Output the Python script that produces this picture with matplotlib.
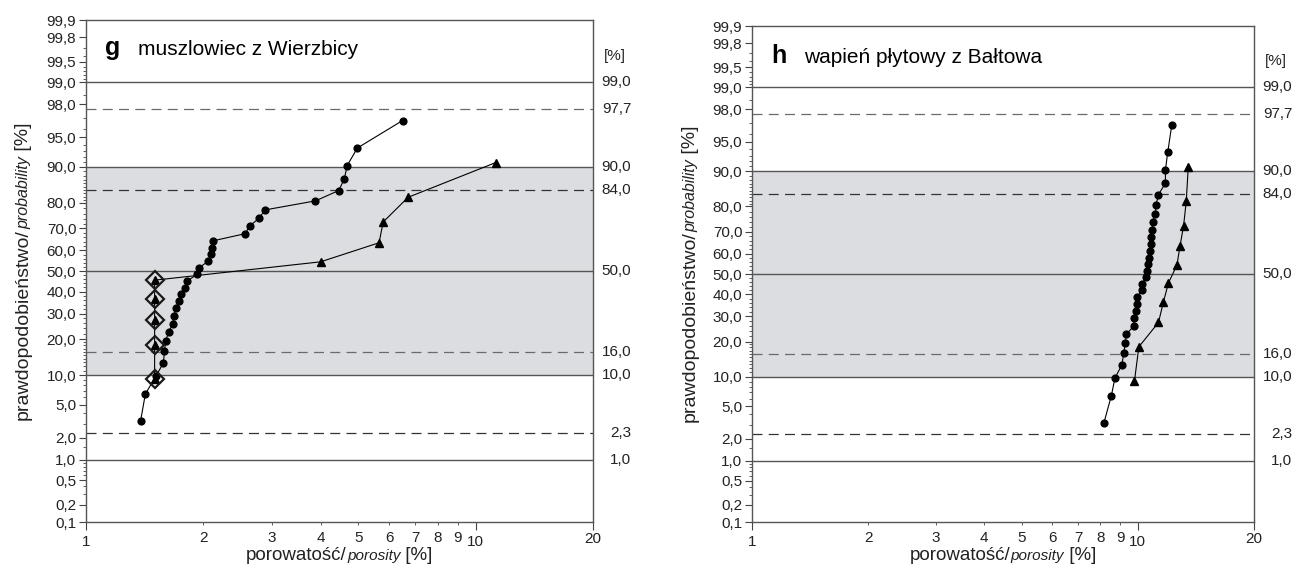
import numpy as np
import matplotlib
matplotlib.use('Agg')
import matplotlib.pyplot as plt
from matplotlib.ticker import FixedLocator, FixedFormatter
from matplotlib.transforms import IdentityTransform
from statistics import NormalDist

plt.rcParams['font.family'] = ['Liberation Sans', 'DejaVu Sans']

# prawdopodobieństwo [%] (pozycje punktów na siatce)
p_circles = [3.2, 6.5, 9.7, 12.9, 16.1, 19.4, 22.6, 25.8, 29.0, 32.3,
             35.5, 38.7, 41.9, 45.2, 48.4, 51.6, 54.8, 58.1, 61.3, 64.5,
             67.7, 71.0, 74.2, 77.4, 80.6, 83.9, 87.1, 90.3, 93.5, 96.8]
p_triangles = [9.1, 18.2, 27.3, 36.4, 45.5, 54.5, 63.6, 72.7, 81.8, 90.9]

# g - muszlowiec z Wierzbicy, porowatość [%]
g_circles = [1.38, 1.42, 1.51, 1.58, 1.59, 1.60, 1.63, 1.67, 1.68, 1.70,
             1.73, 1.75, 1.80, 1.82, 1.93, 1.95, 2.06, 2.09, 2.10, 2.12,
             2.56, 2.63, 2.78, 2.88, 3.88, 4.45, 4.60, 4.68, 4.97, 6.49]
g_triangles = [1.50, 1.50, 1.50, 1.50, 1.50, 4.00, 5.65, 5.79, 6.71, 11.25]
g_diamonds = 5  # first triangle points drawn also as open diamonds

# h - wapień płytowy z Bałtowa
h_circles = [8.17, 8.54, 8.72, 9.09, 9.19, 9.28, 9.33, 9.76, 9.80, 9.90,
             9.94, 9.96, 10.24, 10.26, 10.50, 10.55, 10.61, 10.72, 10.76, 10.82,
             10.84, 10.89, 10.93, 11.10, 11.15, 11.31, 11.79, 11.79, 11.95, 12.24]
h_triangles = [9.80, 10.06, 11.31, 11.65, 12.00, 12.63, 12.86, 13.14, 13.35, 13.51]

# osie
y_major = [0.1, 0.2, 0.5, 1, 2, 5, 10, 20, 30, 40, 50, 60, 70, 80, 90, 95, 98, 99, 99.5, 99.8, 99.9]
y_labels = ['0,1', '0,2', '0,5', '1,0', '2,0', '5,0', '10,0', '20,0', '30,0', '40,0', '50,0',
            '60,0', '70,0', '80,0', '90,0', '95,0', '98,0', '99,0', '99,5', '99,8', '99,9']
y_minor = ([0.3, 0.4, 0.6, 0.7, 0.8, 0.9, 1.5, 3, 4, 6, 7, 8, 9]
           + list(range(11, 20)) + [22, 24, 26, 28, 32, 34, 36, 38, 42, 44, 46, 48,
                                    52, 54, 56, 58, 62, 64, 66, 68, 72, 74, 76, 78]
           + list(range(81, 90)) + [91, 92, 93, 94, 96, 97, 98.5, 99.1, 99.2, 99.3, 99.4, 99.6, 99.7])
x_major = [1, 10, 20]
x_minor = [2, 3, 4, 5, 6, 7, 8, 9]

solid_levels = [1, 10, 50, 90, 99]
dashed_levels = [2.3, 16, 84, 97.7]
dashed_colors = ['#333333', '#6a6a6a', '#333333', '#6a6a6a']
right_levels = [99, 97.7, 90, 84, 50, 16, 10, 2.3, 1]
right_labels = ['99,0', '97,7', '90,0', '84,0', '50,0', '16,0', '10,0', '2,3', '1,0']

nd = NormalDist()


def prob_fwd(p):
    p = np.clip(np.asarray(p, dtype=float), 1e-7, 100 - 1e-7)
    return np.vectorize(lambda v: nd.inv_cdf(v / 100.0), otypes=[float])(p)


def prob_inv(z):
    z = np.clip(np.asarray(z, dtype=float), -8, 8)
    return np.vectorize(lambda v: nd.cdf(v) * 100.0, otypes=[float])(z)


def panel(ax, cx, tx, letter, title, n_diam, title_y):
    ax.set_xscale('log')
    ax.set_yscale('function', functions=(prob_fwd, prob_inv))
    ax.set_xlim(1, 20)
    ax.set_ylim(0.1, 99.9)

    ax.axhspan(10, 90, color='#dcdde0', lw=0, zorder=0.5)
    for lv in solid_levels:
        ax.axhline(lv, color='#555555', lw=1.0, zorder=1)
    for lv, c in zip(dashed_levels, dashed_colors):
        ax.axhline(lv, color=c, lw=0.9, ls=(0, (8, 5)), zorder=1)

    ax.plot(cx, p_circles, color='black', lw=0.8, marker='o', ms=4.9, zorder=3)
    ax.plot(tx, p_triangles, color='black', lw=0.8, marker='^', ms=6, zorder=3)
    if n_diam:
        ax.plot(tx[:n_diam], p_triangles[:n_diam], ls='none', marker='D', ms=8.7,
                mfc='none', mec='#1a1a1a', mew=1.6, zorder=4)

    # etykiety po prawej stronie
    for lv, lab in zip(right_levels, right_labels):
        ax.annotate(lab, xy=(1, lv), xycoords=('axes fraction', 'data'),
                    xytext=(27.5, 0), textcoords='offset points',
                    ha='right', va='center', size=11, color='#222222')
    ax.annotate('[%]', xy=(1, 99.6), xycoords=('axes fraction', 'data'),
                xytext=(24, 0), textcoords='offset points',
                ha='right', va='center', size=11, color='#222222')

    ax.text(0.038, title_y, letter, transform=ax.transAxes, size=18, weight='bold', va='baseline')
    ax.text(0.103, title_y, title, transform=ax.transAxes, size=15, va='baseline')

    ax.yaxis.set_major_locator(FixedLocator(y_major))
    ax.yaxis.set_major_formatter(FixedFormatter(y_labels))
    ax.yaxis.set_minor_locator(FixedLocator(y_minor))
    ax.xaxis.set_major_locator(FixedLocator(x_major))
    ax.xaxis.set_major_formatter(FixedFormatter([str(v) for v in x_major]))
    ax.xaxis.set_minor_locator(FixedLocator(x_minor))
    ax.xaxis.set_minor_formatter(FixedFormatter([str(v) for v in x_minor]))

    ax.tick_params(axis='y', which='major', length=5, width=0.8, pad=2, labelsize=11,
                   color='#444444', labelcolor='#222222')
    ax.tick_params(axis='y', which='minor', length=2.2, width=0.6, color='#444444')
    ax.tick_params(axis='x', which='major', length=5.5, width=0.8, pad=3.5, labelsize=11,
                   color='#444444', labelcolor='#222222')
    ax.tick_params(axis='x', which='minor', length=2, width=0.6, pad=4.5, labelsize=11,
                   color='#444444', labelcolor='#222222')
    # dłuższa kreska przy 10
    ticks = ax.xaxis.get_major_ticks()
    ticks[1].tick1line.set_markersize(8.6)
    ticks[1].set_pad(4)
    ticks[2].set_pad(1.5)

    for s in ax.spines.values():
        s.set_color('#555555')
        s.set_linewidth(1.0)


W, H = 1293, 565
fig = plt.figure(figsize=(W / 100, H / 100), dpi=100)
ax1 = fig.add_axes([86 / W, (H - 522) / H, 507 / W, 502 / H])
ax2 = fig.add_axes([752 / W, (H - 522) / H, 502 / W, 496 / H])

panel(ax1, g_circles, g_triangles, 'g', 'muszlowiec z Wierzbicy', g_diamonds, 0.930)
panel(ax2, h_circles, h_triangles, 'h', 'wapień płytowy z Bałtowa', 0, 0.925)


def mixed_label(parts, cx, cy, rotation):
    # tekst z fragmentami o różnym kroju, wyśrodkowany w punkcie (cx, cy) w pikselach
    texts = [fig.text(0, 0, s, size=sz, style=st, rotation=rotation, rotation_mode='anchor',
                      ha='left', va='baseline', transform=IdentityTransform(), color='#222222')
             for s, sz, st in parts]
    r = fig.canvas.get_renderer()
    lens = []
    for t in texts:
        bb = t.get_window_extent(r)
        lens.append(bb.width if rotation == 0 else bb.height)
    pos = -sum(lens) / 2
    for t, ln in zip(texts, lens):
        if rotation == 0:
            t.set_position((cx + pos, cy))
        else:
            t.set_position((cx, cy + pos))
        pos += ln


xlab = [('porowatość/', 13.5, 'normal'), ('porosity', 11, 'italic'), (' [%]', 13.5, 'normal')]
ylab = [('prawdopodobieństwo/', 14, 'normal'), ('probability', 11.5, 'italic'), (' [%]', 14, 'normal')]

mixed_label(xlab, (86 + 593) / 2, H - 560, 0)
mixed_label(xlab, (752 + 1254) / 2, H - 560, 0)
mixed_label(ylab, 28, H - 271, 90)
mixed_label(ylab, 695, H - 274, 90)

fig.savefig('out.png', dpi=100)
